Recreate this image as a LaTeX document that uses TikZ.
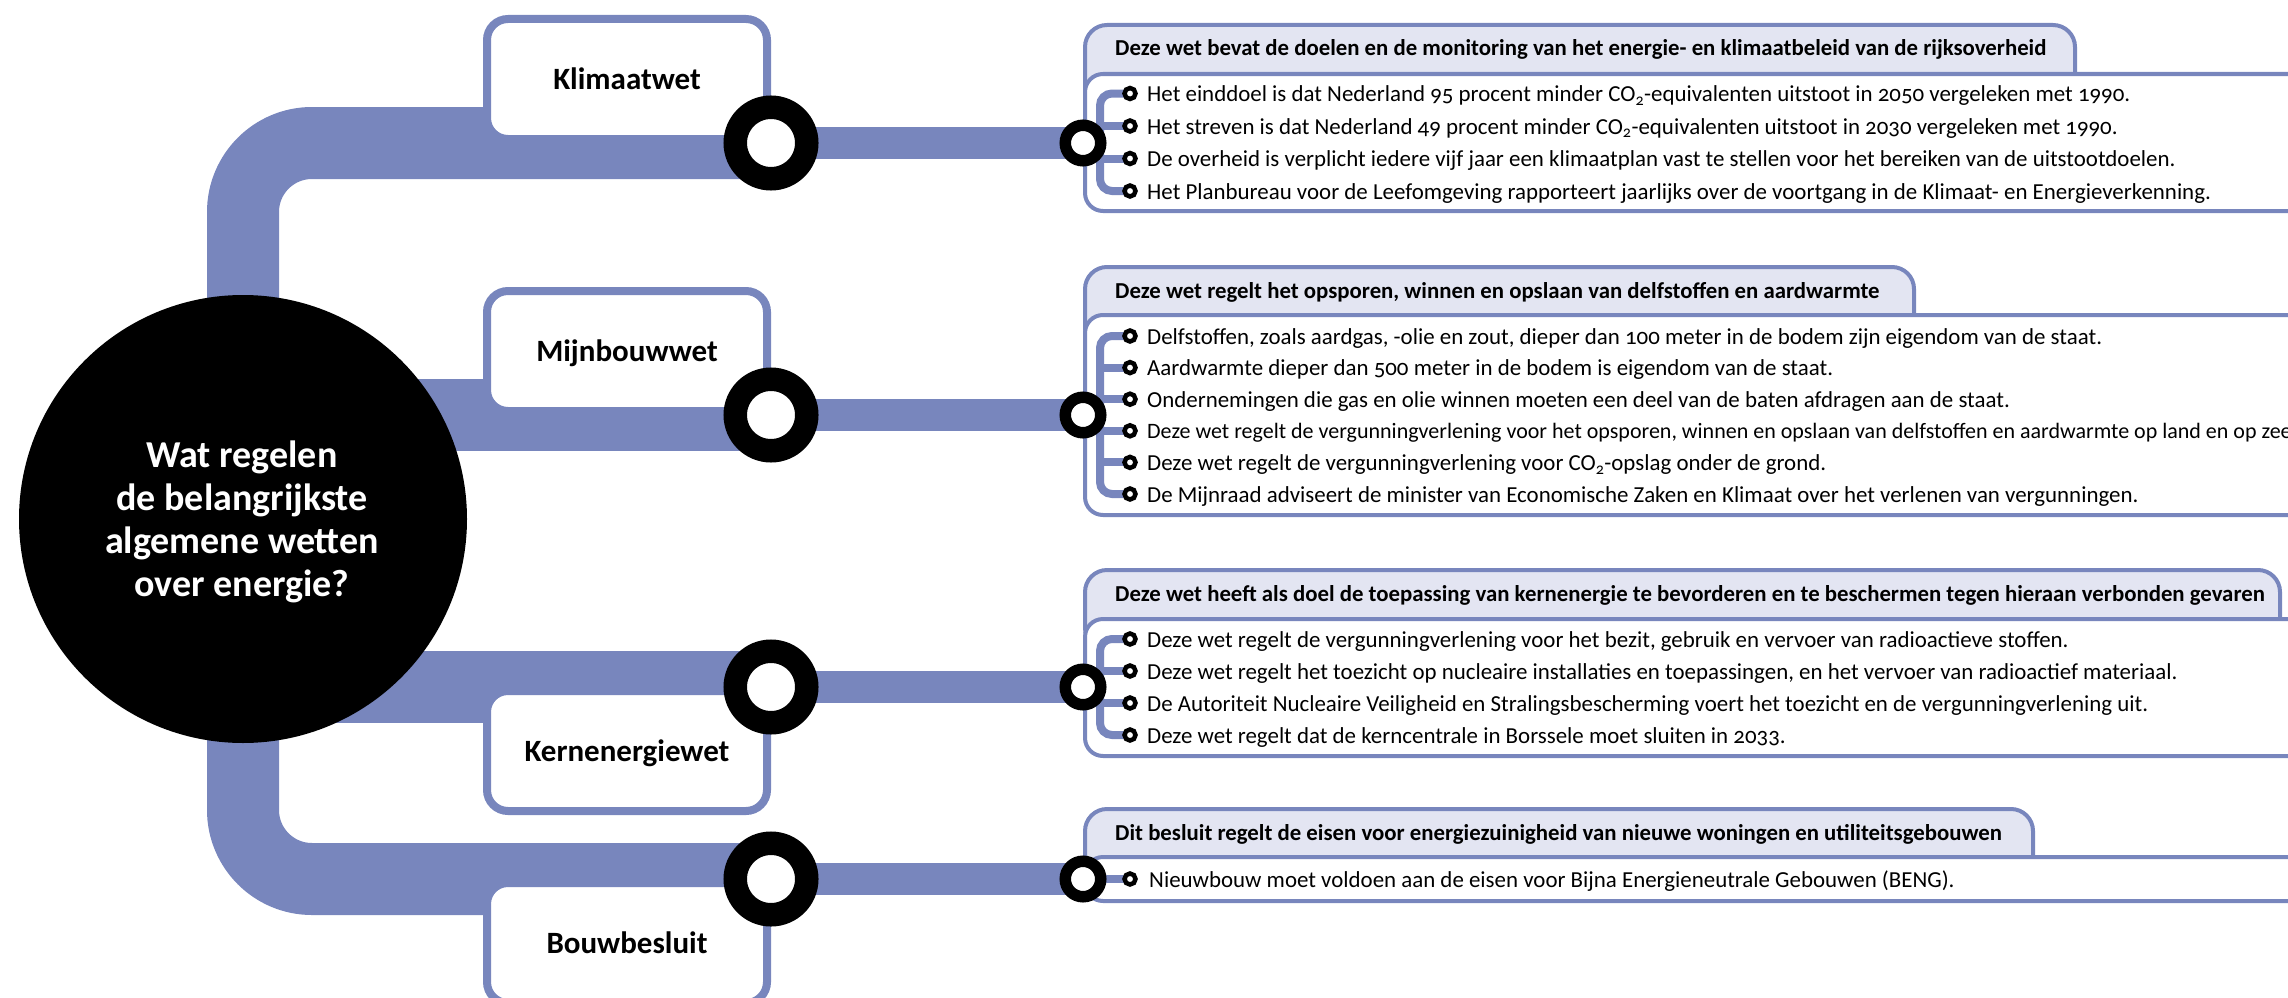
\documentclass[tikz,border=0pt]{standalone}
\usepackage{fontspec}
\setmainfont{Carlito}[Numbers=OldStyle]
\usetikzlibrary{calc}
\pgfdeclarelayer{bands}
\pgfdeclarelayer{shapes}
\pgfdeclarelayer{trees}
\pgfsetlayers{bands,shapes,trees,main}
\definecolor{bandc}{RGB}{120,134,189}
\definecolor{tabc}{RGB}{227,229,242}
\tikzset{
  bandline/.style={draw=bandc, line width=72pt},
  thinband/.style={draw=bandc, line width=32pt},
  treeline/.style={draw=bandc, line width=8pt},
  lawbox/.style={draw=bandc, line width=8pt, fill=white, rounded corners=21pt, minimum width=280pt, minimum height=120pt, inner sep=0pt, text height=20pt, text depth=0pt, font=\fontsize{31}{31}\selectfont\bfseries},
  hubcircle/.style={circle, fill=black, minimum size=448pt, inner sep=0pt},
  hubtext/.style={text=white, align=center, font=\fontsize{38}{43}\selectfont\bfseries, inner sep=0pt},
  bigring/.style={circle, draw=black, fill=white, line width=23.5pt, minimum size=71.5pt, inner sep=0pt},
  smallring/.style={circle, draw=black, fill=white, line width=11.5pt, minimum size=35.5pt, inner sep=0pt},
  bulletring/.style={circle, draw=black, fill=white, line width=4.5pt, minimum size=11pt, inner sep=0pt},
  item/.style={anchor=base west, inner sep=0pt, font=\fontsize{22.9}{22.9}\selectfont},
  tabtitle/.style={anchor=base west, inner sep=0pt, font=\fontsize{22.8}{22.8}\selectfont\bfseries},
  tabshape/.style={draw=bandc, fill=tabc, line width=4pt, rounded corners=22pt},
  bodyshape/.style={draw=bandc, fill=white, line width=4pt, rounded corners=18pt},
}
\begin{document}
\begin{tikzpicture}[x=1pt, y=-1pt]
\clip (0,0) rectangle (2288,998);

% ---------- central question ----------
\node[hubcircle] (hub) at (243,519) {};
\node[hubtext] (q) at (242,522) {Wat regelen\\de belangrijkste\\algemene wetten\\over energie?};

% ---------- law boxes ----------
\begin{pgfonlayer}{shapes}
\node[lawbox] (k1) at (627,79) {Klimaatwet};
\node[lawbox] (k2) at (627,351) {Mijnbouwwet};
\node[lawbox] (k3) at (627,751) {Kernenergiewet};
\node[lawbox] (k4) at (627,943) {Bouwbesluit};
\end{pgfonlayer}

% ---------- rings ----------
\node[bigring] (r1) at (771,143) {};
\node[bigring] (r2) at (771,415) {};
\node[bigring] (r3) at (771,687) {};
\node[bigring] (r4) at (771,879) {};
\node[smallring] (s1) at (1083,143) {};
\node[smallring] (s2) at (1083,415) {};
\node[smallring] (s3) at (1083,687) {};
\node[smallring] (s4) at (1083,879) {};
\coordinate (tx) at (1100,0);

% ---------- bands ----------
\begin{pgfonlayer}{bands}
\draw[bandline, rounded corners=69pt] (r1.center) -| (hub.center) |- (r4.center);
\draw[bandline] (hub.center |- r2.center) -- (r2.center);
\draw[bandline] (hub.center |- r3.center) -- (r3.center);
\draw[thinband] (r1.center) -- (s1.center);
\draw[thinband] (r2.center) -- (s2.center);
\draw[thinband] (r3.center) -- (s3.center);
\draw[thinband] (r4.center) -- (s4.center);
\end{pgfonlayer}

% ---------- panel shapes ----------
\begin{pgfonlayer}{shapes}
\draw[tabshape] (1085,25) rectangle (2075,110);
\draw[bodyshape] (1085,74) rectangle (2340,211);
\draw[tabshape] (1085,267) rectangle (1914,350);
\draw[bodyshape] (1085,315) rectangle (2340,515);
\draw[tabshape] (1085,570) rectangle (2280,650);
\draw[bodyshape] (1085,619) rectangle (2340,756);
\draw[tabshape] (1085,809) rectangle (2033,880);
\draw[bodyshape] (1085,857) rectangle (2340,901);
\end{pgfonlayer}

% ---------- panel titles ----------
\node[tabtitle] (h1) at (1115,56) {Deze wet bevat de doelen en de monitoring van het energie- en klimaatbeleid van de rijksoverheid};
\node[tabtitle] (h2) at (1115,298) {Deze wet regelt het opsporen, winnen en opslaan van delfstoffen en aardwarmte};
\node[tabtitle] (h3) at (1115,601) {Deze wet heeft als doel de toepassing van kernenergie te bevorderen en te beschermen tegen hieraan verbonden gevaren};
\node[tabtitle] (h4) at (1115,840) {Dit besluit regelt de eisen voor energiezuinigheid van nieuwe woningen en utiliteitsgebouwen};

% ---------- panel 1 ----------
\node[bulletring] (b11) at (1130,93.5) {};
\node[bulletring] (b12) at (1130,126) {};
\node[bulletring] (b13) at (1130,158.5) {};
\node[bulletring] (b14) at (1130,191) {};
\node[item] (t11) at (1147,101.5) {Het einddoel is dat Nederland 95 procent minder CO\textsubscript{2}-equivalenten uitstoot in 2050 vergeleken met 1990.};
\node[item] (t12) at (1147,134) {Het streven is dat Nederland 49 procent minder CO\textsubscript{2}-equivalenten uitstoot in 2030 vergeleken met 1990.};
\node[item] (t13) at (1147,166.5) {De overheid is verplicht iedere vijf jaar een klimaatplan vast te stellen voor het bereiken van de uitstootdoelen.};
\node[item] (t14) at (1147,199) {Het Planbureau voor de Leefomgeving rapporteert jaarlijks over de voortgang in de Klimaat- en Energieverkenning.};

% ---------- panel 2 ----------
\node[bulletring] (b21) at (1130,336) {};
\node[bulletring] (b22) at (1130,367.6) {};
\node[bulletring] (b23) at (1130,399.2) {};
\node[bulletring] (b24) at (1130,430.8) {};
\node[bulletring] (b25) at (1130,462.4) {};
\node[bulletring] (b26) at (1130,494) {};
\node[item] (t21) at (1147,344) {Delfstoffen, zoals aardgas, -olie en zout, dieper dan 100 meter in de bodem zijn eigendom van de staat.};
\node[item] (t22) at (1147,375.6) {Aardwarmte dieper dan 500 meter in de bodem is eigendom van de staat.};
\node[item] (t23) at (1147,407.2) {Ondernemingen die gas en olie winnen moeten een deel van de baten afdragen aan de staat.};
\node[item, font=\fontsize{22}{22}\selectfont] (t24) at (1147,438.8) {Deze wet regelt de vergunningverlening voor het opsporen, winnen en opslaan van delfstoffen en aardwarmte op land en op zee.};
\node[item] (t25) at (1147,470.4) {Deze wet regelt de vergunningverlening voor CO\textsubscript{2}-opslag onder de grond.};
\node[item] (t26) at (1147,502) {De Mijnraad adviseert de minister van Economische Zaken en Klimaat over het verlenen van vergunningen.};

% ---------- panel 3 ----------
\node[bulletring] (b31) at (1130,639) {};
\node[bulletring] (b32) at (1130,671) {};
\node[bulletring] (b33) at (1130,703) {};
\node[bulletring] (b34) at (1130,735) {};
\node[item] (t31) at (1147,647) {Deze wet regelt de vergunningverlening voor het bezit, gebruik en vervoer van radioactieve stoffen.};
\node[item] (t32) at (1147,679) {Deze wet regelt het toezicht op nucleaire installaties en toepassingen, en het vervoer van radioactief materiaal.};
\node[item] (t33) at (1147,711) {De Autoriteit Nucleaire Veiligheid en Stralingsbescherming voert het toezicht en de vergunningverlening uit.};
\node[item] (t34) at (1147,743) {Deze wet regelt dat de kerncentrale in Borssele moet sluiten in 2033.};

% ---------- panel 4 ----------
\node[bulletring] (b41) at (1130,879) {};
\node[item] (t41) at (1149,887) {Nieuwbouw moet voldoen aan de eisen voor Bijna Energieneutrale Gebouwen (BENG).};

% ---------- trees ----------
\begin{pgfonlayer}{trees}
\draw[treeline, rounded corners=12pt] (b11.center) -- (b11.center -| tx) -- (b14.center -| tx) -- (b14.center);
\draw[treeline] (b12.center -| tx) -- (b12.center);
\draw[treeline] (b13.center -| tx) -- (b13.center);
\draw[treeline] (s1.center) -- (s1.center -| tx);
\draw[treeline, rounded corners=12pt] (b21.center) -- (b21.center -| tx) -- (b26.center -| tx) -- (b26.center);
\draw[treeline] (b22.center -| tx) -- (b22.center);
\draw[treeline] (b23.center -| tx) -- (b23.center);
\draw[treeline] (b24.center -| tx) -- (b24.center);
\draw[treeline] (b25.center -| tx) -- (b25.center);
\draw[treeline] (s2.center) -- (s2.center -| tx);
\draw[treeline, rounded corners=12pt] (b31.center) -- (b31.center -| tx) -- (b34.center -| tx) -- (b34.center);
\draw[treeline] (b32.center -| tx) -- (b32.center);
\draw[treeline] (b33.center -| tx) -- (b33.center);
\draw[treeline] (s3.center) -- (s3.center -| tx);
\draw[treeline] (s4.center) -- (b41.center);
\end{pgfonlayer}
\end{tikzpicture}
\end{document}
